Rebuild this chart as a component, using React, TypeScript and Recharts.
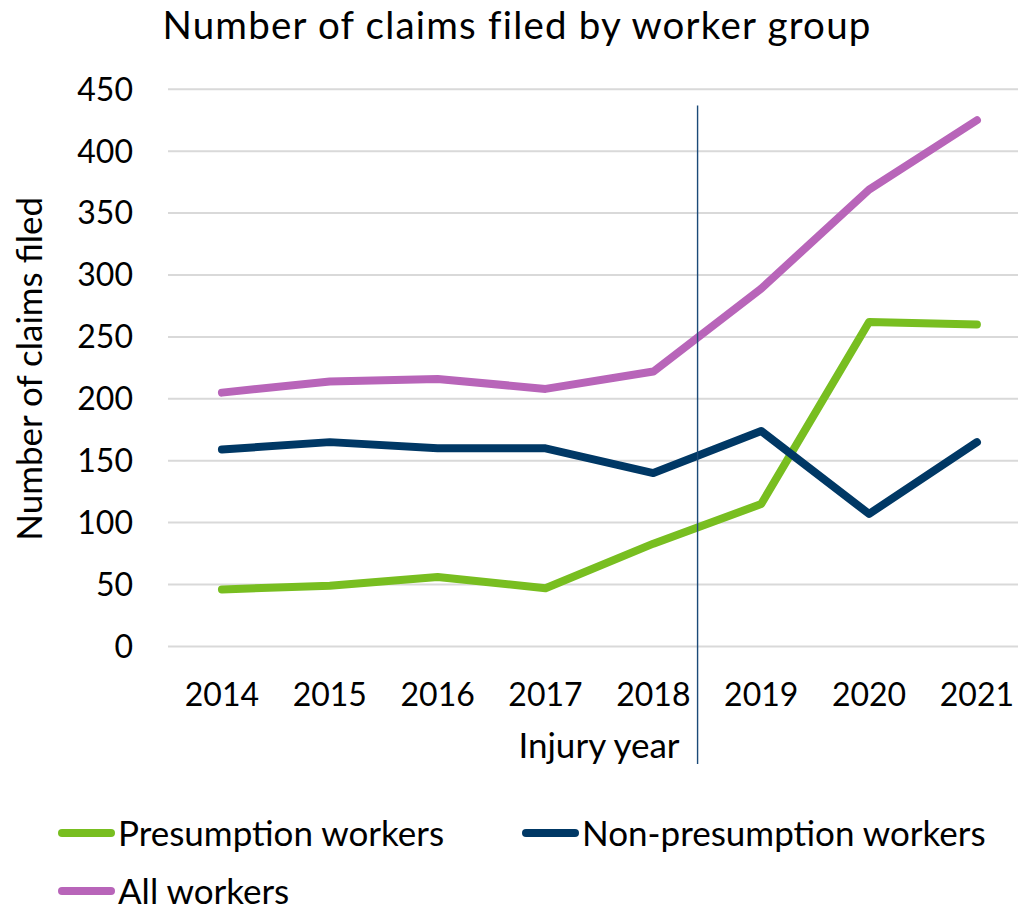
import React from 'react';
import { LineChart, Line, XAxis, YAxis, CartesianGrid, ReferenceLine, Legend } from 'recharts';

const years = [2014, 2015, 2016, 2017, 2018, 2019, 2020, 2021];
const presumption = [46, 49, 56, 47, 83, 115, 262, 260];
const nonPresumption = [159, 165, 160, 160, 140, 174, 107, 165];
const allWorkers = [205, 214, 216, 208, 222, 289, 369, 425];
const yTicks = [0, 50, 100, 150, 200, 250, 300, 350, 400, 450];
const seriesNames = ['Presumption workers', 'Non-presumption workers', 'All workers'];
const dividerYear = 2018.41;
const dividerTop = 437;
const dividerBottom = -95;

const data = years.map((y, i) => ({
  year: y,
  presumption: presumption[i],
  nonPresumption: nonPresumption[i],
  all: allWorkers[i],
}));

const FONT = "Lato, 'Open Sans', sans-serif";
const W = 1018;
const H = 901;
const TICK_FS = 32;
const LABEL_FS = 35;
const LEGEND_FS = 35;

const legendPos = [
  { x: 50, y: 55 },
  { x: 514, y: 55 },
  { x: 50, y: 113 },
];

const renderLegend = (props: any) => {
  const payload = props.payload || [];
  return (
    <svg width={W} height={140} style={{ overflow: 'visible', display: 'block' }}>
      {payload.map((p: any, i: number) => {
        const idx = seriesNames.indexOf(p.value);
        const pos = legendPos[idx >= 0 ? idx : i] || legendPos[0];
        return (
          <g key={i}>
            <line
              x1={pos.x + 4}
              x2={pos.x + 53}
              y1={pos.y}
              y2={pos.y}
              stroke={p.color}
              strokeWidth={8}
              strokeLinecap="round"
            />
            <text
              x={pos.x + 60}
              y={pos.y + LEGEND_FS * 0.36}
              fontSize={LEGEND_FS}
              fontFamily={FONT}
              fill="#000"
            >
              {p.value}
            </text>
          </g>
        );
      })}
    </svg>
  );
};

export default function App() {
  return (
    <div style={{ position: 'relative', width: W, height: H, fontFamily: FONT }}>
      <svg
        width={W}
        height={60}
        style={{ position: 'absolute', left: 0, top: 0, overflow: 'visible' }}
      >
        <text
          x={509}
          y={31}
          textAnchor="middle"
          fontSize={38.5}
          letterSpacing={1.2}
          fontFamily={FONT}
          fill="#000"
        >
          Number of claims filed by worker group
        </text>
      </svg>
      <LineChart
        width={W}
        height={H}
        data={data}
        margin={{ top: 81.3, right: 0, bottom: 142.6, left: 0 }}
      >
        <CartesianGrid vertical={false} stroke="#d9d9d9" strokeWidth={2} />
        <XAxis
          dataKey="year"
          type="number"
          domain={[2013.5, 2021.455]}
          ticks={years}
          allowDataOverflow
          axisLine={false}
          tickLine={false}
          tickSize={0}
          tickMargin={37}
          height={120}
          tick={{ fontSize: TICK_FS, fill: '#000', fontFamily: FONT }}
          label={{
            content: (lp: any) => {
              const vb = lp.viewBox || { x: 160, y: 638.4, width: 858 };
              return (
                <text
                  x={vb.x + vb.width / 2 + 2}
                  y={vb.y + 111.6}
                  textAnchor="middle"
                  fontSize={LABEL_FS}
                  fontFamily={FONT}
                  fill="#000"
                >
                  Injury year
                </text>
              );
            },
          }}
        />
        <YAxis
          type="number"
          domain={[0, 450]}
          ticks={yTicks}
          axisLine={false}
          tickLine={false}
          tickSize={0}
          tickMargin={35}
          width={160}
          tick={{ fontSize: TICK_FS, fill: '#000', fontFamily: FONT }}
          label={{
            content: (lp: any) => {
              const vb = lp.viewBox || { x: 0, y: 81.3, height: 557 };
              const cx = vb.x + 34;
              const cy = vb.y + vb.height / 2 + 1;
              return (
                <text
                  x={0}
                  y={0}
                  transform={`translate(${cx},${cy}) rotate(-90)`}
                  textAnchor="middle"
                  fontSize={LABEL_FS}
                  fontFamily={FONT}
                  fill="#000"
                >
                  Number of claims filed
                </text>
              );
            },
          }}
        />
        <Line
          type="linear"
          dataKey="presumption"
          name={seriesNames[0]}
          stroke="#78BE20"
          strokeWidth={8}
          strokeLinecap="round"
          strokeLinejoin="round"
          dot={false}
          activeDot={false}
          isAnimationActive={false}
        />
        <Line
          type="linear"
          dataKey="nonPresumption"
          name={seriesNames[1]}
          stroke="#003865"
          strokeWidth={8}
          strokeLinecap="round"
          strokeLinejoin="round"
          dot={false}
          activeDot={false}
          isAnimationActive={false}
        />
        <Line
          type="linear"
          dataKey="all"
          name={seriesNames[2]}
          stroke="#B865B9"
          strokeWidth={8}
          strokeLinecap="round"
          strokeLinejoin="round"
          dot={false}
          activeDot={false}
          isAnimationActive={false}
        />
        <ReferenceLine
          segment={[
            { x: dividerYear, y: dividerTop },
            { x: dividerYear, y: dividerBottom },
          ]}
          ifOverflow="visible"
          stroke="#1B4A78"
          strokeWidth={1.4}
        />
        <Legend
          content={renderLegend}
          wrapperStyle={{ position: 'absolute', left: 0, top: 770, width: W, height: 0, overflow: 'visible' }}
        />
      </LineChart>
    </div>
  );
}
